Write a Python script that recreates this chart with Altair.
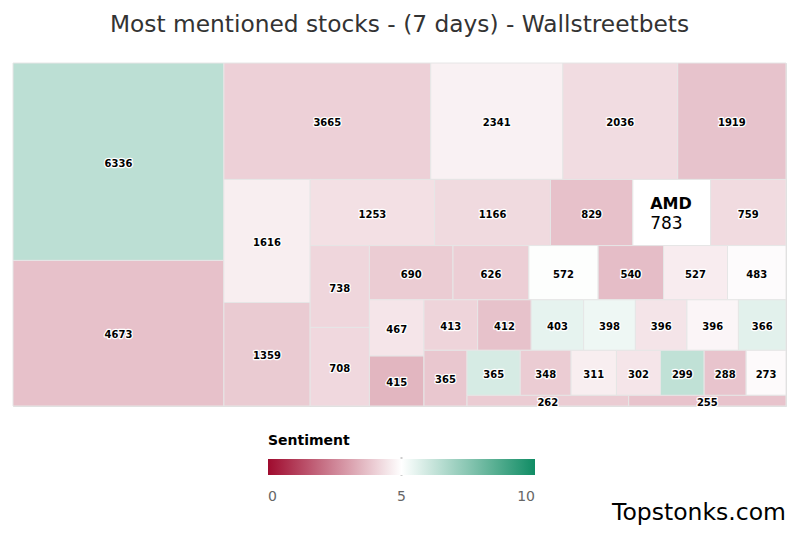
import altair as alt
import pandas as pd

# ---- data ----
mentions = [6336, 4673, 3665, 2341, 2036, 1919, 1616, 1359, 1253, 1166,
            829, 783, 759, 738, 708, 690, 626, 572, 540, 527,
            483, 467, 415, 413, 412, 403, 398, 396, 396, 366,
            365, 365, 348, 311, 302, 299, 288, 273, 262, 255]
sentiment = [6.4, 3.73, 4.04, 4.71, 4.28, 3.77, 4.65, 3.93, 4.36, 4.24,
             3.73, 5.0, 4.26, 4.16, 4.2, 3.95, 4.0, 5.05, 3.65, 4.61,
             4.92, 4.47, 3.5, 4.12, 3.75, 5.52, 5.36, 4.45, 4.8, 5.6,
             3.85, 5.86, 3.95, 4.65, 4.47, 6.32, 3.8, 4.9, 3.95, 3.78]
hover_index = 11
hover_ticker = "AMD"

legend_ticks = [0, 5, 10]
color_domain = [0, 5, 10]
color_range = ["#9f0b2e", "#ffffff", "#108c64"]

W, H = 773, 343


# ---- squarified treemap layout (alternating direction, as Highcharts) ----
def treemap_layout(vals, width, height):
    total_val = float(sum(vals))
    area = width * height
    out = []
    st = dict(height=height, width=width, direction=0, total=0.0,
              nW=0.0, lW=0.0, nH=0.0, lH=0.0, el=[], lR=float("nan"), nR=float("nan"))
    plot = dict(x=0.0, y=0.0)

    def ratio(a, b):
        return max(a / b, b / a)

    def add(e):
        last = st["el"][-1] if st["el"] else None
        st["total"] += e
        if st["direction"] == 0:
            st["lW"] = st["nW"]
            if last is None or st["lW"] == 0:
                st["lR"] = float("nan")
            else:
                st["lR"] = ratio(st["lW"], last / st["lW"])
            st["nW"] = st["total"] / st["height"]
            st["nR"] = float("nan") if last is None else ratio(st["nW"], last / st["nW"])
        else:
            st["lH"] = st["nH"]
            if last is None or st["lH"] == 0:
                st["lR"] = float("nan")
            else:
                st["lR"] = ratio(last / st["lH"], st["lH"])
            st["nH"] = st["total"] / st["width"]
            st["nR"] = float("nan") if last is None else ratio(last / st["nH"], st["nH"])
        st["el"].append(e)

    def calc(is_last):
        gW, gH = st["lW"], st["lH"]
        keep = None
        if is_last:
            gW, gH = st["nW"], st["nH"]
        else:
            keep = st["el"][-1]
        end = len(st["el"]) - 1
        for i, p in enumerate(st["el"]):
            if is_last or i < end:
                if st["direction"] == 0:
                    pw, ph = gW, p / gW
                    out.append((plot["x"], plot["y"], pw, ph))
                    plot["y"] += ph
                else:
                    ph, pw = gH, p / gH
                    out.append((plot["x"], plot["y"], pw, ph))
                    plot["x"] += pw
        st["nW"] = 0.0
        st["lW"] = 0.0
        st["el"] = []
        st["total"] = 0.0
        if st["direction"] == 0:
            st["width"] -= gW
        else:
            st["height"] -= gH
        plot["y"] = height - st["height"]
        plot["x"] = width - st["width"]
        st["direction"] = 1 - st["direction"]
        if not is_last:
            add(keep)

    end = len(vals) - 1
    for i, v in enumerate(vals):
        add(area * v / total_val)
        if st["nR"] > st["lR"]:
            calc(False)
        if i == end:
            calc(True)
    return out


cells = treemap_layout(mentions, W, H)
df = pd.DataFrame({
    "mentions": mentions,
    "sentiment": sentiment,
    "x": [c[0] for c in cells],
    "x2": [c[0] + c[2] for c in cells],
    "y": [c[1] for c in cells],
    "y2": [c[1] + c[3] for c in cells],
})
df["xc"] = (df["x"] + df["x2"]) / 2
df["yc"] = (df["y"] + df["y2"]) / 2
df["label"] = [("" if i == hover_index else str(m)) for i, m in enumerate(mentions)]

hov = df.iloc[[hover_index]].copy()
hov["name"] = hover_ticker
hov["val"] = str(mentions[hover_index])

xs = alt.Scale(domain=[0, W], nice=False, zero=False)
ys = alt.Scale(domain=[0, H], nice=False, zero=False, reverse=True)

FONT = "DejaVu Sans"

legend_x = 255
legend_len = 267

rects = alt.Chart(df).mark_rect(stroke="#e6e6e6", strokeWidth=1).encode(
    x=alt.X("x:Q", scale=xs, axis=None),
    x2="x2:Q",
    y=alt.Y("y:Q", scale=ys, axis=None),
    y2="y2:Q",
    color=alt.Color(
        "sentiment:Q",
        scale=alt.Scale(domain=color_domain, range=color_range, interpolate="rgb"),
        legend=alt.Legend(
            orient="none", legendX=legend_x, legendY=371, direction="horizontal",
            gradientLength=legend_len, gradientThickness=16, gradientStrokeWidth=0,
            title="Sentiment", titleFont=FONT, titleFontSize=14, titleFontWeight="bold",
            titleColor="#000000", titlePadding=11,
            labelFont=FONT, labelFontSize=14, labelColor="#666666", labelOffset=15,
            values=legend_ticks, format="d",
        ),
    ),
)

label_base = alt.Chart(df).transform_filter("datum.label != ''")
outline = label_base.mark_text(
    font=FONT, fontSize=10, fontWeight="bold", baseline="middle", dy=2,
    color="#ffffff", stroke="#ffffff", strokeWidth=2.5, strokeJoin="round",
).encode(x=alt.X("xc:Q", scale=xs, axis=None), y=alt.Y("yc:Q", scale=ys, axis=None), text="label:N")
labels = label_base.mark_text(
    font=FONT, fontSize=10, fontWeight="bold", baseline="middle", dy=2, color="#000000",
).encode(x=alt.X("xc:Q", scale=xs, axis=None), y=alt.Y("yc:Q", scale=ys, axis=None), text="label:N")

hov_name = alt.Chart(hov).mark_text(
    font=FONT, fontSize=16, fontWeight="bold", align="left", baseline="alphabetic",
    dx=-21.5, dy=-4, color="#000000",
).encode(x=alt.X("xc:Q", scale=xs, axis=None), y=alt.Y("yc:Q", scale=ys, axis=None), text="name:N")
hov_val = alt.Chart(hov).mark_text(
    font=FONT, fontSize=17, align="left", baseline="alphabetic",
    dx=-21.5, dy=16.5, color="#000000",
).encode(x=alt.X("xc:Q", scale=xs, axis=None), y=alt.Y("yc:Q", scale=ys, axis=None), text="val:N")

marker_x = legend_x + sentiment[hover_index] / 10 * legend_len
marker = alt.Chart(hov).mark_rule(color="#cccccc", strokeWidth=2).encode(
    x=alt.value(marker_x), y=alt.value(394), y2=alt.value(413)
)

brand = alt.Chart(pd.DataFrame({"t": ["Topstonks.com"]})).mark_text(
    font=FONT, fontSize=23.5, align="right", baseline="alphabetic", color="#000000",
).encode(x=alt.value(W), y=alt.value(457), text="t:N")

chart = alt.layer(rects, outline, labels, hov_name, hov_val, marker, brand).properties(
    width=W, height=H,
    autosize="none",
    padding={"left": 5, "top": 55, "right": 6, "bottom": 119},
    title=alt.TitleParams(
        "Most mentioned stocks - (7 days) - Wallstreetbets",
        font=FONT, fontSize=23.3, fontWeight="normal", color="#333333",
        anchor="middle", offset=25,
    ),
).configure_view(stroke=None).configure(background="#ffffff")

chart.save("out.html", embed_options={"renderer": "svg", "actions": False})
